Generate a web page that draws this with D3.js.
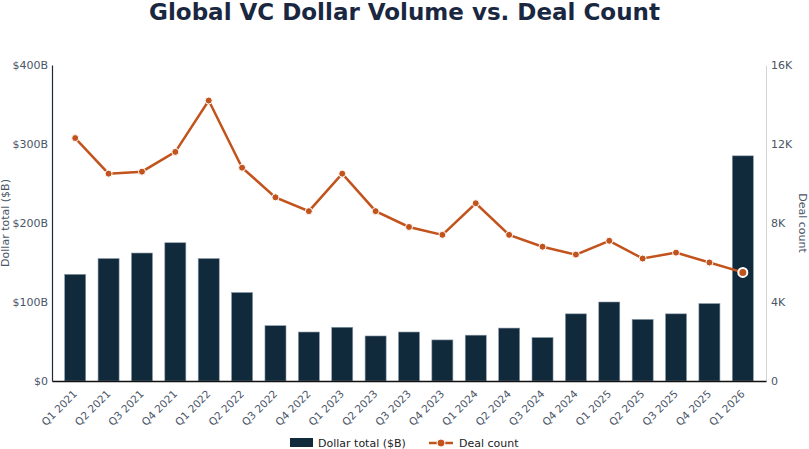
<!DOCTYPE html>
<html>
<head>
<meta charset="utf-8">
<script src="https://cdn.jsdelivr.net/npm/d3@7"></script>
<style>
body { margin: 0; background: #fff; }
svg text { font-family: "DejaVu Sans", sans-serif; }
</style>
</head>
<body>
<svg id="chart" width="809" height="449"></svg>
<script>
var quarters = ['Q1 2021','Q2 2021','Q3 2021','Q4 2021','Q1 2022','Q2 2022','Q3 2022','Q4 2022',
	'Q1 2023','Q2 2023','Q3 2023','Q4 2023','Q1 2024','Q2 2024','Q3 2024','Q4 2024',
	'Q1 2025','Q2 2025','Q3 2025','Q4 2025','Q1 2026']
var dollarTotal = [135, 155, 162, 175, 155, 112, 70, 62, 68, 57, 62, 52, 58, 67, 55, 85, 100, 78, 85, 98, 285]
var dealCount = [12300, 10500, 10600, 11600, 14200, 10800, 9300, 8600, 10500, 8600, 7800, 7400,
	9000, 7400, 6800, 6400, 7100, 6200, 6500, 6000, 5500]
var leftTicks = [0, 100, 200, 300, 400]
var rightTicks = [0, 4000, 8000, 12000, 16000]

var barColor = '#10293b'
var lineColor = '#c2531c'
var textColor = '#4a5568'

var svg = d3.select('#chart')
var margin = {top: 65, right: 43, bottom: 68, left: 52}
var width = +svg.attr('width')
var height = +svg.attr('height')
var plotBottom = height - margin.bottom
var plotRight = width - margin.right

var x = d3.scaleBand()
	.domain(quarters)
	.range([margin.left, plotRight])
	.paddingInner(0.37)
	.paddingOuter(0.38)

var yLeft = d3.scaleLinear().domain([0, 400]).range([plotBottom, margin.top])
var yRight = d3.scaleLinear().domain([0, 16000]).range([plotBottom, margin.top])

// title
svg.append('text')
	.attr('x', width / 2)
	.attr('y', 20)
	.attr('text-anchor', 'middle')
	.attr('font-size', 23)
	.attr('font-weight', 'bold')
	.attr('fill', '#1a2740')
	.text('Global VC Dollar Volume vs. Deal Count')

// bars
svg.append('g')
	.selectAll('rect')
	.data(dollarTotal)
	.enter().append('rect')
		.attr('x', function(d, i) { return x(quarters[i]) })
		.attr('y', function(d) { return yLeft(d) })
		.attr('width', x.bandwidth())
		.attr('height', function(d) { return plotBottom - yLeft(d) })
		.attr('fill', barColor)
		.attr('stroke', '#8a99a8')
		.attr('stroke-width', 0.6)

// left axis
var leftAxis = svg.append('g')
	.attr('transform', 'translate(' + margin.left + ',0)')
	.call(d3.axisLeft(yLeft).tickValues(leftTicks).tickSize(0).tickPadding(4)
		.tickFormat(function(d) { return d === 0 ? '$0' : '$' + d + 'B' }))
leftAxis.select('.domain').attr('stroke', '#1f2937').attr('stroke-width', 1.2)
leftAxis.selectAll('text').attr('fill', textColor).attr('font-size', 11)

// right axis
var rightAxis = svg.append('g')
	.attr('transform', 'translate(' + plotRight + ',0)')
	.call(d3.axisRight(yRight).tickValues(rightTicks).tickSize(0).tickPadding(5)
		.tickFormat(function(d) { return d === 0 ? '0' : (d / 1000) + 'K' }))
rightAxis.select('.domain').attr('stroke', '#d4d4d4')
rightAxis.selectAll('text').attr('fill', textColor).attr('font-size', 11)

// x axis
var xAxis = svg.append('g')
	.attr('transform', 'translate(0,' + plotBottom + ')')
	.call(d3.axisBottom(x).tickSize(0).tickPadding(0))
xAxis.select('.domain').attr('stroke', '#111').attr('stroke-width', 1.5)
xAxis.selectAll('text')
	.attr('fill', textColor)
	.attr('font-size', 10.5)
	.attr('text-anchor', 'end')
	.attr('x', 0)
	.attr('y', 0)
	.attr('dy', '0.35em')
	.attr('transform', 'translate(0,11) rotate(-45)')

// axis titles
svg.append('text')
	.attr('transform', 'translate(9,' + ((margin.top + plotBottom) / 2) + ') rotate(-90)')
	.attr('text-anchor', 'middle')
	.attr('font-size', 11)
	.attr('fill', textColor)
	.text('Dollar total ($B)')

svg.append('text')
	.attr('transform', 'translate(799,' + ((margin.top + plotBottom) / 2) + ') rotate(90)')
	.attr('text-anchor', 'middle')
	.attr('font-size', 11)
	.attr('fill', textColor)
	.text('Deal count')

// deal count line
var line = d3.line()
	.x(function(d, i) { return x(quarters[i]) + x.bandwidth() / 2 })
	.y(function(d) { return yRight(d) })

svg.append('path')
	.datum(dealCount)
	.attr('d', line)
	.attr('fill', 'none')
	.attr('stroke', lineColor)
	.attr('stroke-width', 2.5)

svg.append('g')
	.selectAll('circle')
	.data(dealCount)
	.enter().append('circle')
		.attr('cx', function(d, i) { return x(quarters[i]) + x.bandwidth() / 2 })
		.attr('cy', function(d) { return yRight(d) })
		.attr('r', function(d, i) { return i === dealCount.length - 1 ? 4.5 : 3.5 })
		.attr('fill', lineColor)
		.attr('stroke', '#fff')
		.attr('stroke-width', function(d, i) { return i === dealCount.length - 1 ? 2 : 1 })

// legend
var legend = svg.append('g').attr('transform', 'translate(0,443)')
legend.append('rect')
	.attr('x', 290).attr('y', -5).attr('width', 23).attr('height', 9)
	.attr('fill', barColor)
legend.append('text')
	.attr('x', 318).attr('y', 4)
	.attr('font-size', 11).attr('fill', '#222')
	.text('Dollar total ($B)')
legend.append('line')
	.attr('x1', 429).attr('x2', 453).attr('y1', 0).attr('y2', 0)
	.attr('stroke', lineColor).attr('stroke-width', 2.5)
legend.append('circle')
	.attr('cx', 441).attr('cy', 0).attr('r', 4)
	.attr('fill', lineColor).attr('stroke', '#fff').attr('stroke-width', 1)
legend.append('text')
	.attr('x', 459).attr('y', 4)
	.attr('font-size', 11).attr('fill', '#222')
	.text('Deal count')
</script>
</body>
</html>
